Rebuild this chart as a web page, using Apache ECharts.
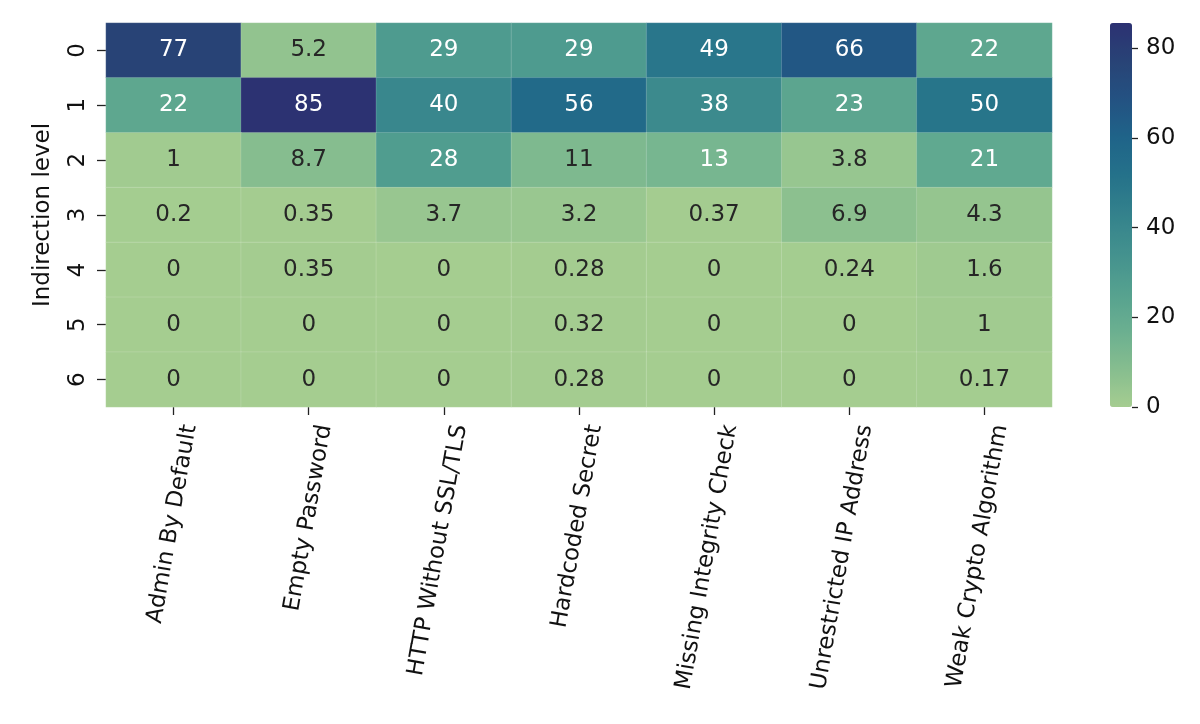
<html>
<head>
<meta charset="utf-8">
<script src="https://cdn.jsdelivr.net/npm/echarts@6/dist/echarts.min.js"></script>
<style>
  body { margin: 0; background: #fff; }
  #chart { width: 1200px; height: 724px; }
</style>
</head>
<body>
<div id="chart"></div>
<script>
// categories
var issues = ['Admin By Default', 'Empty Password', 'HTTP Without SSL/TLS', 'Hardcoded Secret',
              'Missing Integrity Check', 'Unrestricted IP Address', 'Weak Crypto Algorithm'];
var levels = ['0', '1', '2', '3', '4', '5', '6'];
// one array per indirection level (columns follow issues)
var level0 = [77, 5.2, 29, 29, 49, 66, 22];
var level1 = [22, 85, 40, 56, 38, 23, 50];
var level2 = [1, 8.7, 28, 11, 13, 3.8, 21];
var level3 = [0.2, 0.35, 3.7, 3.2, 0.37, 6.9, 4.3];
var level4 = [0, 0.35, 0, 0.28, 0, 0.24, 1.6];
var level5 = [0, 0, 0, 0.32, 0, 0, 1];
var level6 = [0, 0, 0, 0.28, 0, 0, 0.17];
var colorbarTicks = [0, 20, 40, 60, 80];
var colorMax = 85.6;

var rows = [level0, level1, level2, level3, level4, level5, level6];
var cells = [];
rows.forEach(function (row, y) {
  row.forEach(function (v, x) {
    cells.push({ value: [x, y, v], label: { color: v > 12 ? '#ffffff' : '#262626' } });
  });
});

var font = 'DejaVu Sans';
var fs = 23;
var chart = echarts.init(document.getElementById('chart'));
chart.setOption({
  animation: false,
  textStyle: { fontFamily: font },
  grid: [
    { left: 106, top: 23, width: 946, height: 384 },
    { left: 1110, top: 23, width: 22, height: 384 }
  ],
  xAxis: [
    {
      type: 'category', data: issues, gridIndex: 0,
      axisLine: { show: false },
      axisTick: { show: true, alignWithLabel: true, length: 8, lineStyle: { color: '#222', width: 1.3 } },
      axisLabel: {
        rotate: 80, interval: 0, fontSize: fs, color: '#111', margin: 15, fontFamily: font,
        align: 'right', verticalAlign: 'top', padding: [5, 0, 0, 0]
      },
      splitLine: { show: false }
    },
    { type: 'category', data: [''], gridIndex: 1, show: false }
  ],
  yAxis: [
    {
      type: 'category', data: levels, inverse: true, gridIndex: 0,
      name: 'Indirection level', nameLocation: 'middle', nameGap: 51, nameRotate: 90,
      nameTextStyle: { fontSize: fs, color: '#111', fontFamily: font },
      axisLine: { show: false },
      axisTick: { show: true, alignWithLabel: true, length: 9, lineStyle: { color: '#222', width: 1.3 } },
      axisLabel: { rotate: 90, fontSize: fs, color: '#111', margin: 16, fontFamily: font }
    },
    {
      type: 'value', gridIndex: 1, position: 'right', min: 0, max: colorMax,
      interval: 20,
      axisLine: { show: false },
      splitLine: { show: false },
      axisTick: { show: true, length: 6, customValues: colorbarTicks, lineStyle: { color: '#222', width: 1.3 } },
      axisLabel: {
        fontSize: fs, color: '#111', margin: 14, fontFamily: font, customValues: colorbarTicks
      }
    }
  ],
  visualMap: {
    type: 'continuous', min: 0, max: colorMax, seriesIndex: 0,
    orient: 'vertical', left: 1110, top: 23, itemWidth: 22, itemHeight: 384,
    padding: 0, calculable: false, text: null, showLabel: false,
    inRange: {
      color: ['#a5cd90', '#86bd8f', '#6aaf90', '#55a18f', '#43918e', '#34828c',
              '#25728a', '#1f6489', '#235282', '#284376', '#2c3172']
    }
  },
  series: [{
    type: 'heatmap',
    xAxisIndex: 0, yAxisIndex: 0,
    data: cells,
    itemStyle: { borderColor: 'rgba(255,255,255,0.25)', borderWidth: 0.6 },
    label: {
      show: true, fontSize: fs, fontFamily: font,
      formatter: function (p) { return String(p.value[2]); }
    },
    emphasis: { disabled: true }
  }]
});
</script>
</body>
</html>
